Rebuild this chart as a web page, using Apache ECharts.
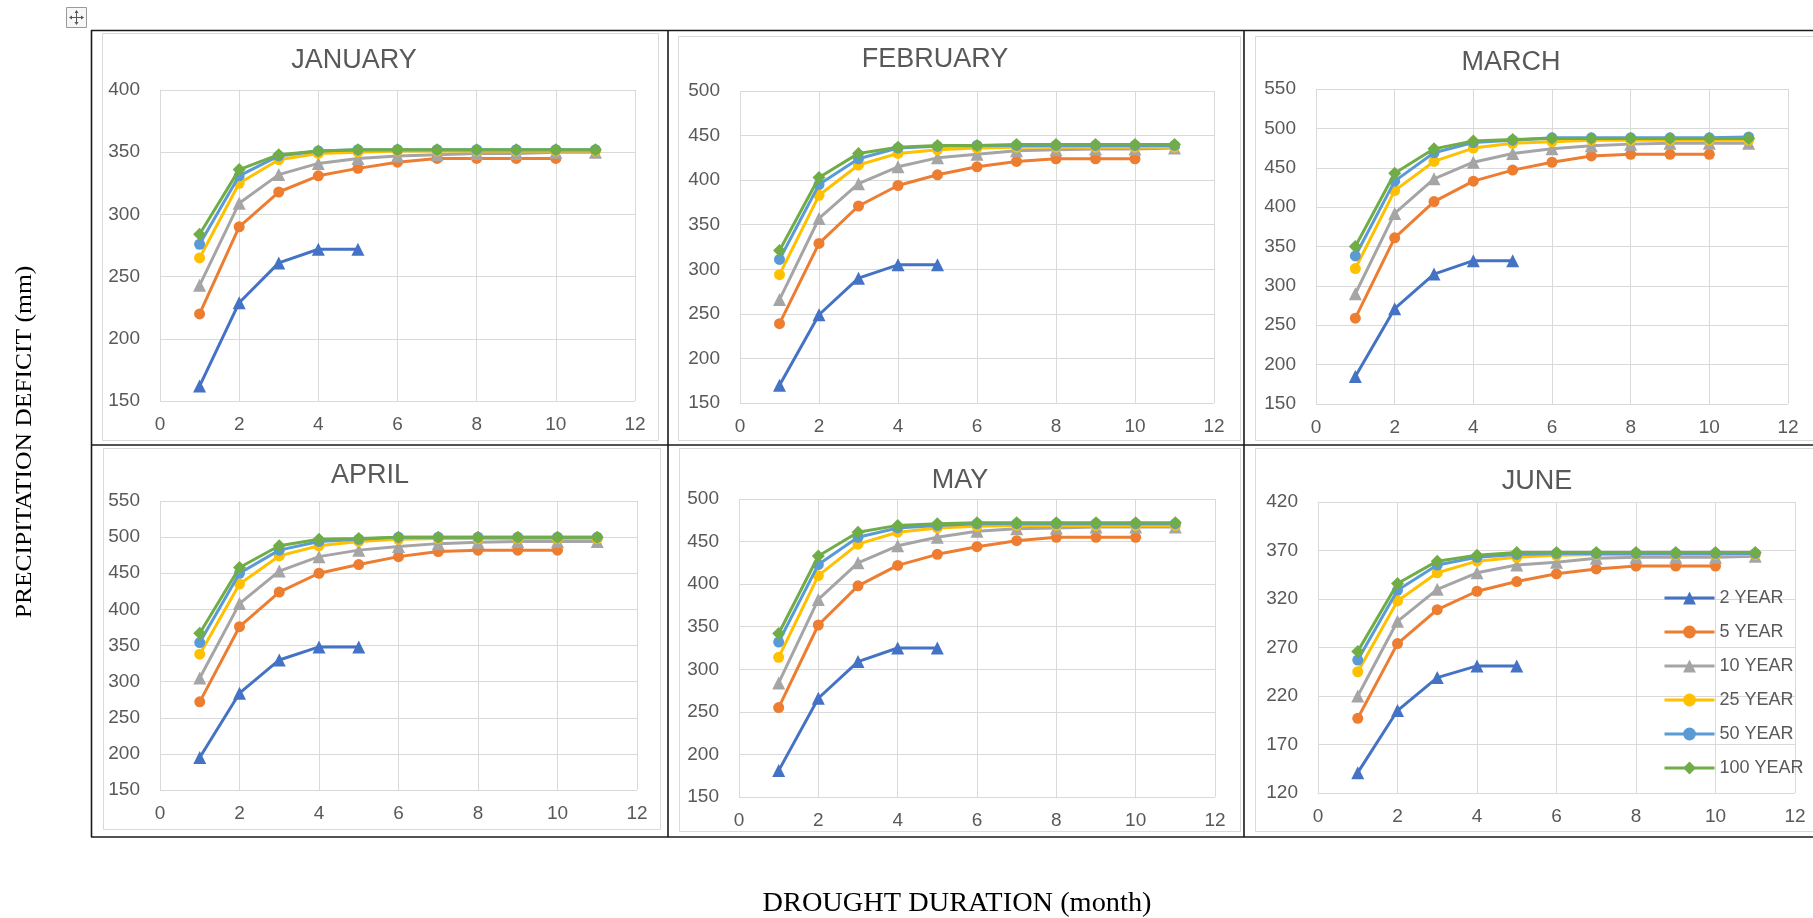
<!DOCTYPE html>
<html>
<head>
<meta charset="utf-8">
<script src="https://cdn.jsdelivr.net/npm/echarts@6/dist/echarts.min.js"></script>
<style>
html,body{margin:0;padding:0;background:#fff;}
#chart{width:1813px;height:918px;}
</style>
</head>
<body>
<div id="chart"></div>
<script>
// ---------- DATA ----------
const durations = [1, 2, 3, 4, 5, 6, 7, 8, 9, 10, 11];
const seriesNames = ['2 YEAR', '5 YEAR', '10 YEAR', '25 YEAR', '50 YEAR', '100 YEAR'];
const monthTitles = ['JANUARY', 'FEBRUARY', 'MARCH', 'APRIL', 'MAY', 'JUNE'];
const xTicks = [0, 12, 2];               // min, max, step of the duration axis
const yMins = [150, 150, 150, 150, 150, 120];
const yMaxs = [400, 500, 550, 550, 500, 420];
const yStep = 50;

const january = [
  [162, 229, 261, 272, 272],
  [220, 290, 318, 331, 337, 342, 345, 345, 345, 345],
  [243, 309, 332, 341, 345, 347, 348, 349, 349, 350, 350],
  [265, 325, 344, 349, 350, 351, 351, 351, 351, 351, 351],
  [276, 331, 347, 351, 352, 352, 352, 352, 352, 352, 352],
  [284, 336, 348, 351, 352, 352, 352, 352, 352, 352, 352]
];
const february = [
  [170, 249, 290, 305, 305],
  [239, 329, 371, 394, 406, 415, 421, 424, 424, 424],
  [266, 357, 396, 415, 425, 429, 433, 434, 435, 435, 436],
  [294, 383, 417, 430, 434, 436, 437, 437, 437, 437, 437],
  [311, 395, 424, 436, 438, 439, 439, 439, 439, 439, 439],
  [321, 403, 430, 437, 439, 439, 440, 440, 440, 440, 440]
];
const march = [
  [185, 271, 315, 332, 332],
  [259, 361, 407, 433, 447, 457, 465, 467, 467, 467],
  [290, 392, 436, 457, 468, 474, 478, 480, 481, 481, 481],
  [322, 421, 458, 475, 481, 483, 485, 485, 485, 485, 485],
  [338, 433, 469, 482, 485, 488, 488, 488, 488, 488, 489],
  [350, 443, 474, 484, 486, 487, 487, 487, 487, 487, 487]
];
const april = [
  [195, 284, 330, 348, 348],
  [272, 376, 424, 450, 462, 473, 480, 482, 482, 482],
  [305, 408, 453, 473, 482, 487, 491, 493, 494, 494, 494],
  [338, 435, 474, 488, 494, 497, 498, 498, 498, 498, 498],
  [354, 450, 482, 494, 497, 500, 500, 500, 500, 500, 500],
  [367, 458, 488, 497, 498, 500, 500, 500, 500, 500, 500]
];
const may = [
  [181, 266, 309, 325, 325],
  [255, 352, 398, 422, 435, 444, 451, 455, 455, 455],
  [284, 382, 425, 445, 455, 462, 465, 466, 467, 467, 467],
  [314, 410, 447, 461, 466, 468, 469, 469, 469, 469, 469],
  [332, 423, 455, 466, 469, 471, 471, 471, 471, 471, 471],
  [342, 433, 461, 469, 471, 472, 472, 472, 472, 472, 472]
];
const june = [
  [141, 205, 239, 251, 251],
  [197, 274, 309, 328, 338, 346, 351, 354, 354, 354],
  [220, 297, 330, 347, 355, 358, 362, 363, 363, 363, 364],
  [245, 318, 347, 359, 363, 365, 366, 366, 366, 366, 366],
  [257, 329, 355, 363, 366, 367, 367, 367, 367, 367, 367],
  [266, 336, 359, 365, 368, 368, 368, 368, 368, 368, 368]
];
const monthData = [january, february, march, april, may, june];

// ---------- STYLE / LAYOUT ----------
const colors = ['#4472C4', '#ED7D31', '#A5A5A5', '#FFC000', '#5B9BD5', '#70AD47'];
const symbols = ['triangle', 'circle', 'triangle', 'circle', 'circle', 'diamond'];
const symbolSizes = [13, 11, 13, 11, 11, 13];
const FONT = 'Liberation Sans';
const TXT = '#595959';
const GRIDC = '#d9d9d9';

// plot areas [left, top, width, height]
const plots = [
  [160, 90, 475, 311],
  [740, 91, 474, 312],
  [1316, 89, 472, 315],
  [160, 501, 477, 289],
  [739, 499, 476, 298],
  [1318, 502, 477, 291]
];
// title centres
const titlePos = [[354, 61], [935, 60], [1511, 63], [370, 476], [960, 481], [1537, 482]];
// inner chart-area borders [x1, y1, x2, y2]
const chartBoxes = [
  [102, 33, 658, 440],
  [678, 36, 1240, 440],
  [1255, 36, 1816, 440],
  [103, 448, 660, 829],
  [679, 448, 1240, 831],
  [1255, 448, 1816, 831]
];

const grids = [], xAxes = [], yAxes = [], series = [], graphics = [];

plots.forEach((p, i) => {
  grids.push({ left: p[0], top: p[1], width: p[2], height: p[3], containLabel: false });
  xAxes.push({
    type: 'value', gridIndex: i, min: xTicks[0], max: xTicks[1], interval: xTicks[2],
    axisLine: { show: false }, axisTick: { show: false },
    splitLine: { show: true, lineStyle: { color: GRIDC, width: 1 } },
    axisLabel: { color: TXT, fontFamily: FONT, fontSize: 19, margin: 14 }
  });
  yAxes.push({
    type: 'value', gridIndex: i, min: yMins[i], max: yMaxs[i], interval: yStep,
    axisLine: { show: false }, axisTick: { show: false },
    splitLine: { show: true, lineStyle: { color: GRIDC, width: 1 } },
    axisLabel: { color: TXT, fontFamily: FONT, fontSize: 19, margin: 20 }
  });
  monthData[i].forEach((vals, j) => {
    series.push({
      type: 'line', name: seriesNames[j], xAxisIndex: i, yAxisIndex: i,
      data: vals.map((v, k) => [durations[k], v]),
      symbol: symbols[j], symbolSize: symbolSizes[j],
      lineStyle: { width: 3, color: colors[j] },
      itemStyle: { color: colors[j], borderWidth: 0 },
      z: 2 + j, animation: false, silent: true
    });
  });
  const b = chartBoxes[i];
  graphics.push({
    type: 'rect', shape: { x: b[0] + 0.5, y: b[1] + 0.5, width: b[2] - b[0], height: b[3] - b[1] },
    style: { fill: 'none', stroke: GRIDC, lineWidth: 1 }, z: 0
  });
  graphics.push({
    type: 'text', x: titlePos[i][0], y: titlePos[i][1],
    style: { text: monthTitles[i], fill: TXT, font: '27px "Liberation Sans"', align: 'center', verticalAlign: 'middle' }
  });
});

// table lines
const tableLines = [
  [91, 30.5, 1813, 30.5], [91, 445, 1813, 445], [91, 837, 1813, 837],
  [91.5, 30, 91.5, 837], [668, 30, 668, 837], [1244, 30, 1244, 837]
];
tableLines.forEach(l => graphics.push({
  type: 'line', shape: { x1: l[0], y1: l[1], x2: l[2], y2: l[3] },
  style: { stroke: '#1a1a1a', lineWidth: 1.6 }, z: 10
}));

// move handle icon
graphics.push({ type: 'rect', shape: { x: 66.5, y: 7.5, width: 20, height: 20 }, style: { fill: '#f7f7f7', stroke: '#9a9a9a', lineWidth: 1 } });
graphics.push({ type: 'line', shape: { x1: 70, y1: 17.5, x2: 83, y2: 17.5 }, style: { stroke: '#555', lineWidth: 1 } });
graphics.push({ type: 'line', shape: { x1: 76.5, y1: 11, x2: 76.5, y2: 24 }, style: { stroke: '#555', lineWidth: 1 } });
[[[69, 17.5], [72, 15.5], [72, 19.5]], [[84, 17.5], [81, 15.5], [81, 19.5]],
 [[76.5, 10], [74.5, 13], [78.5, 13]], [[76.5, 25], [74.5, 22], [78.5, 22]]].forEach(pts =>
  graphics.push({ type: 'polygon', shape: { points: pts }, style: { fill: '#555' } }));

// axis titles
graphics.push({
  type: 'text', x: 25, y: 442, rotation: Math.PI / 2, scaleX: 1.11,
  style: { text: 'PRECIPITATION DEFICIT (mm)', fill: '#000', font: '23px "Liberation Serif"', align: 'center', verticalAlign: 'middle' }
});
graphics.push({
  type: 'text', x: 957, y: 904, scaleX: 1.05,
  style: { text: 'DROUGHT DURATION (month)', fill: '#000', font: '27px "Liberation Serif"', align: 'center', verticalAlign: 'middle' }
});

const chart = echarts.init(document.getElementById('chart'), null, { renderer: 'canvas' });
chart.setOption({
  backgroundColor: '#fff',
  animation: false,
  legend: {
    data: seriesNames, orient: 'vertical', left: 1658, top: 584,
    itemWidth: 50, itemHeight: 16, itemGap: 16,
    lineStyle: { width: 3 },
    textStyle: { color: TXT, fontFamily: FONT, fontSize: 18 },
    selectedMode: false
  },
  grid: grids, xAxis: xAxes, yAxis: yAxes, series: series,
  graphic: graphics
});
</script>
</body>
</html>
